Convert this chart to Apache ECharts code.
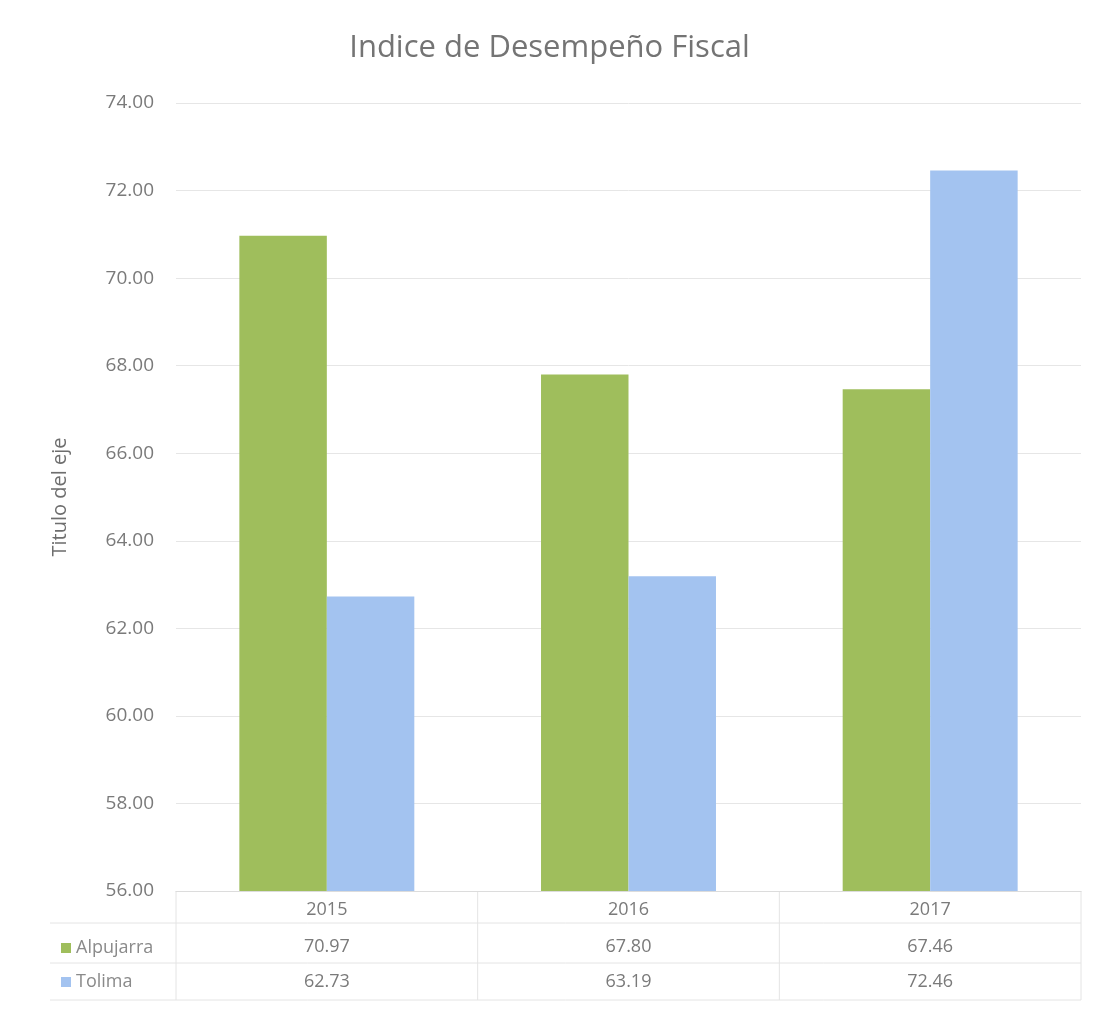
<!DOCTYPE html>
<html>
<head>
<meta charset="utf-8">
<script src="https://cdn.jsdelivr.net/npm/echarts@6/dist/echarts.min.js"></script>
<style>html,body{margin:0;padding:0;background:#fff}#c{width:1099px;height:1011px}</style>
</head>
<body>
<div id="c"></div>
<script>
const categories = ['2015', '2016', '2017'];
const alpujarra = [70.97, 67.80, 67.46];
const tolima = [62.73, 63.19, 72.46];
const seriesNames = ['Alpujarra', 'Tolima'];
const yMin = 56, yMax = 74, yStep = 2;

const FONT = '"Open Sans", "Noto Sans", sans-serif';
const GREEN = '#9fbe5c', BLUE = '#a3c3f0';
const G = {left: 176, right: 18, top: 103, bottom: 120};

const chart = echarts.init(document.getElementById('c'));

function tableAxis(values, offset) {
  return {
    type: 'category', data: categories, position: 'bottom', gridIndex: 0, offset: offset,
    axisLine: {show: false}, axisTick: {show: false},
    axisLabel: {margin: 10, fontFamily: FONT, fontSize: 18, color: '#7a7a7a',
      formatter: (v, i) => values[i].toFixed(2)}
  };
}

const lineStyle = {stroke: '#e4e4e4', lineWidth: 1};
const W = 1099, H = 1011;
const x0 = G.left, x1 = W - G.right, yb = H - G.bottom;
const catW = (x1 - x0) / categories.length;
const graphics = [];
[[50, yb + 32], [50, yb + 72], [50, yb + 109]].forEach(([xs, y]) => {
  graphics.push({type: 'line', shape: {x1: xs, y1: y, x2: x1, y2: y}, style: lineStyle, silent: true});
});
for (let i = 0; i <= categories.length; i++) {
  const x = x0 + i * catW;
  graphics.push({type: 'line', shape: {x1: x, y1: yb, x2: x, y2: yb + 109}, style: lineStyle, silent: true});
}

chart.setOption({
  animation: false,
  backgroundColor: '#fff',
  title: {text: 'Indice de Desempeño Fiscal', left: 'center', top: 28,
    textStyle: {fontFamily: FONT, fontSize: 31, fontWeight: 'normal', color: '#747474'}},
  legend: {orient: 'vertical', left: 56, top: yb + 43, itemWidth: 10, itemHeight: 10, itemGap: 16,
    icon: 'rect', data: seriesNames,
    textStyle: {fontFamily: FONT, fontSize: 18, color: '#8a8a8a'}},
  grid: G,
  xAxis: [
    {type: 'category', data: categories, position: 'bottom',
      axisLine: {show: true, lineStyle: {color: '#dcdcdc'}}, axisTick: {show: false},
      axisLabel: {margin: 10, fontFamily: FONT, fontSize: 18, color: '#7a7a7a'}},
    tableAxis(alpujarra, 37),
    tableAxis(tolima, 72)
  ],
  yAxis: {type: 'value', min: yMin, max: yMax, interval: yStep,
    name: 'Titulo del eje', nameLocation: 'middle', nameGap: 106, nameRotate: 90,
    nameTextStyle: {fontFamily: FONT, fontSize: 20, color: '#6e6e6e'},
    axisLine: {show: false}, axisTick: {show: false},
    axisLabel: {margin: 22, fontFamily: FONT, fontSize: 19, color: '#7a7a7a',
      formatter: v => v.toFixed(2)},
    splitLine: {lineStyle: {color: '#e6e6e6'}}},
  series: [
    {name: seriesNames[0], type: 'bar', data: alpujarra, barWidth: '29%', barGap: '0%',
      itemStyle: {color: GREEN}},
    {name: seriesNames[1], type: 'bar', data: tolima, barWidth: '29%', barGap: '0%',
      itemStyle: {color: BLUE}}
  ],
  graphic: graphics
});
</script>
</body>
</html>
